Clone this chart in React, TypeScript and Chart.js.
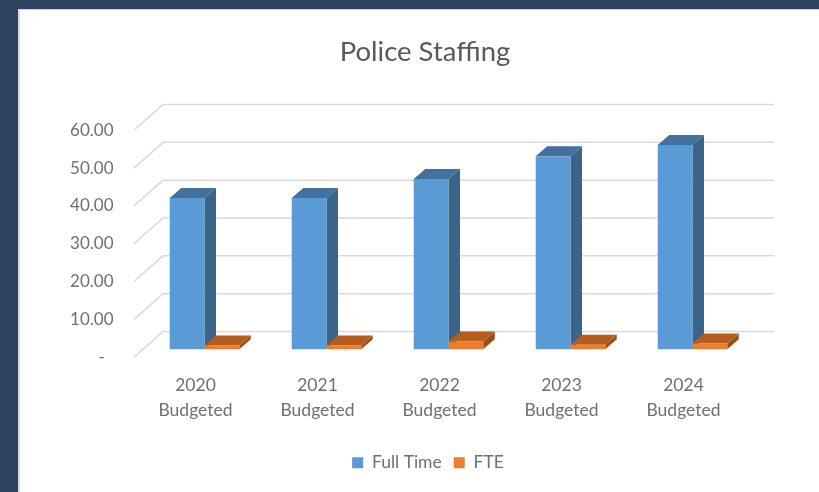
import React, { useEffect, useRef } from "react";
import { Chart, registerables } from "chart.js";

Chart.register(...registerables);

const categories = [["2020", "Budgeted"], ["2021", "Budgeted"], ["2022", "Budgeted"], ["2023", "Budgeted"], ["2024", "Budgeted"]];
const fullTime = [40, 40, 45, 51, 54];
const fte = [1, 1, 2, 1.2, 1.5];
const titleText = "Police Staffing";
const FONT = "Lato, Carlito, 'Open Sans', sans-serif";
const GRID = "#d9d9d9";
const faces = [
  { front: "#5b9bd5", top: "#41719c", side: "#3a6489" },
  { front: "#ed7d31", top: "#b55d1f", side: "#9a4f1a" },
];

const depth3d = {
  id: "depth3d",
  afterLayout(chart: any) {
    // the reference legend sits slightly right of the title's centre
    chart.legend.left += 3;
    chart.legend.right += 3;
    // tick labels extend left of the narrow axis box: widen its clip area
    chart.scales.y.left = 0;
  },
  beforeDatasetsDraw(chart: any) {
    const { ctx, chartArea, scales } = chart;
    ctx.save();
    // floor & wall grid lines
    const fx = chartArea.left - 9.5;
    const bx = chartArea.left + 19.5;
    const rx = chartArea.right + 20.5;
    ctx.strokeStyle = GRID;
    ctx.lineWidth = 1.5;
    for (let v = 0; v <= 60; v += 10) {
      const fy = scales.y.getPixelForValue(v);
      const by = scales.back.getPixelForValue(v);
      ctx.beginPath();
      ctx.moveTo(fx, fy);
      ctx.lineTo(bx, by);
      ctx.lineTo(rx, by);
      ctx.stroke();
    }
    // bar sides and tops
    const dx = 11.5;
    const dy = 10;
    chart.data.datasets.forEach((_: any, di: number) => {
      const meta = chart.getDatasetMeta(di);
      meta.data.forEach((bar: any) => {
        const l = bar.x - bar.width / 2;
        const r = bar.x + bar.width / 2;
        const t = bar.y;
        const b = bar.base;
        ctx.fillStyle = faces[di].side;
        ctx.beginPath();
        ctx.moveTo(r, t);
        ctx.lineTo(r + dx, t - dy);
        ctx.lineTo(r + dx, b - dy);
        ctx.lineTo(r, b);
        ctx.closePath();
        ctx.fill();
        ctx.fillStyle = faces[di].top;
        ctx.beginPath();
        ctx.moveTo(l, t);
        ctx.lineTo(l + dx, t - dy);
        ctx.lineTo(r + dx, t - dy);
        ctx.lineTo(r, t);
        ctx.closePath();
        ctx.fill();
      });
    });
    ctx.restore();
  },
};

export default function App() {
  const ref = useRef<HTMLCanvasElement>(null);
  useEffect(() => {
    const chart = new Chart(ref.current as HTMLCanvasElement, {
      type: "bar",
      plugins: [depth3d],
      data: {
        labels: categories as any,
        datasets: [
          { label: "Full Time", data: fullTime, backgroundColor: faces[0].front, yAxisID: "bars", categoryPercentage: 0.57, barPercentage: 1 },
          { label: "FTE", data: fte, backgroundColor: faces[1].front, yAxisID: "bars", categoryPercentage: 0.57, barPercentage: 1 },
        ],
      },
      options: {
        responsive: false,
        animation: false,
        layout: { padding: { top: 0, left: 96.5, right: 65.5, bottom: 10.5 } },
        plugins: {
          tooltip: { enabled: false },
          title: {
            display: true,
            text: titleText,
            color: "#595959",
            font: { family: FONT, size: 27.5, weight: "normal" },
            padding: { top: 36, bottom: 35.3 },
          },
          legend: {
            position: "bottom",
            labels: {
              boxWidth: 11,
              boxHeight: 11,
              padding: 12,
              color: "#6f6f6f",
              font: { family: FONT, size: 17.5 },
            },
          },
        },
        scales: {
          x: {
            grid: { display: false, drawTicks: false },
            border: { display: false },
            afterFit(s: any) { s.height = 84.8; },
            ticks: {
              color: "#6f6f6f",
              font: { family: FONT, size: 17.5, lineHeight: 1.47 },
              labelOffset: -9,
              padding: 15,
              maxRotation: 0,
              autoSkip: false,
            },
          },
          y: {
            min: 0,
            max: 66.86,
            position: "left",
            grid: { display: false, drawTicks: false },
            border: { display: false },
            afterFit(s: any) { s.width = 47; },
            afterBuildTicks(s: any) {
              s.ticks = [0, 10, 20, 30, 40, 50, 60].map((value) => ({ value }));
            },
            ticks: {
              color: "#6f6f6f",
              font: { family: FONT, size: 17 },
              padding: 30,
              callback: (v: any) => (Number(v) === 0 ? "-  " : Number(v).toFixed(2)),
            },
          },
          bars: { type: "linear", axis: "y", display: false, min: -2.12, max: 64.74 },
          back: { type: "linear", axis: "y", display: false, min: -6.8, max: 60.06 },
        },
      } as any,
    });
    return () => chart.destroy();
  }, []);
  return (
    <div style={{ position: "fixed", inset: 0, background: "#2e4460", overflow: "hidden" }}>
      <div style={{ position: "absolute", left: 18, top: 9, right: 0, bottom: 0, background: "#fff", borderLeft: "2px solid #dcdcdc", borderTop: "1px solid #cfcfcf" }} />
      <canvas ref={ref} width={819} height={492} style={{ position: "absolute", left: 0, top: 0, width: 819, height: 492, display: "block", filter: "blur(0.45px)" }} />
    </div>
  );
}
